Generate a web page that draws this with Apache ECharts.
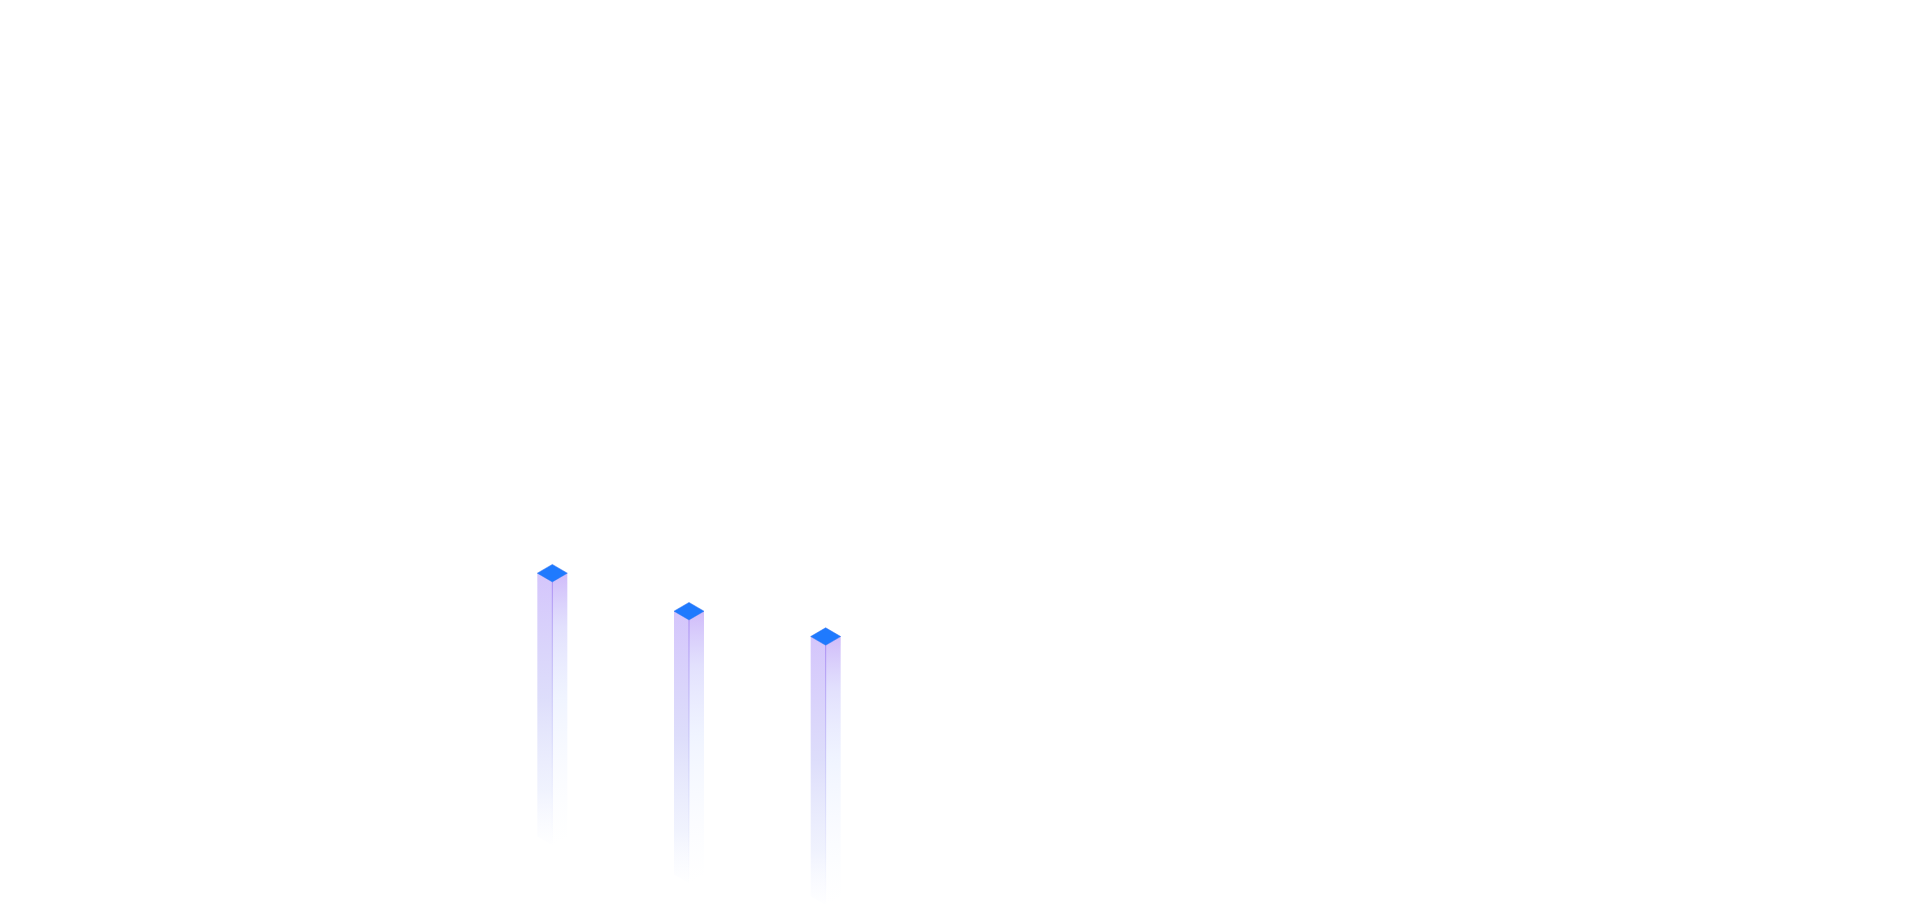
<!DOCTYPE html>
<html>
<head>
<meta charset="utf-8">
<style>
  html, body { margin: 0; padding: 0; background: #ffffff; }
  #chart { width: 1920px; height: 905px; }
</style>
<script src="https://cdn.jsdelivr.net/npm/echarts@6/dist/echarts.min.js"></script>
</head>
<body>
<div id="chart"></div>
<script>
// ---- data ----
const categories = ['A', 'B', 'C'];
const topValues = [357, 315, 287];   // value at the front corner of each cube top
const baseValues = [66, 24, 0];      // value where each column fades out

const chart = echarts.init(document.getElementById('chart'));

const HALF_W = 15;   // half width of a column (px)
const RISE = 8.75;   // isometric rise of the top face (px)

const leftFill = new echarts.graphic.LinearGradient(0, 0, 0, 1, [
  { offset: 0, color: 'rgba(170,140,248,0.5)' },
  { offset: 0.46, color: 'rgba(175,175,245,0.42)' },
  { offset: 0.8, color: 'rgba(195,205,250,0.25)' },
  { offset: 1, color: 'rgba(215,225,255,0.02)' }
]);
const rightFill = new echarts.graphic.LinearGradient(0, 0, 0, 1, [
  { offset: 0, color: 'rgba(165,125,245,0.52)' },
  { offset: 0.2, color: 'rgba(180,175,250,0.38)' },
  { offset: 0.46, color: 'rgba(200,215,255,0.27)' },
  { offset: 0.8, color: 'rgba(220,230,255,0.1)' },
  { offset: 1, color: 'rgba(230,240,255,0)' }
]);
const edgeStroke = new echarts.graphic.LinearGradient(0, 0, 0, 1, [
  { offset: 0, color: 'rgba(150,115,240,0.7)' },
  { offset: 0.6, color: 'rgba(170,170,245,0.35)' },
  { offset: 1, color: 'rgba(200,210,250,0)' }
]);

function renderItem(params, api) {
  const x = api.value(0);
  const top = api.coord([x, api.value(1)]);
  const base = api.coord([x, api.value(2)]);
  return {
    type: 'group',
    children: [
      {
        type: 'polygon',
        shape: { points: [
          [top[0], top[1]], [top[0] - HALF_W, top[1] - RISE],
          [base[0] - HALF_W, base[1] - RISE], [base[0], base[1]]
        ] },
        style: { fill: leftFill }
      },
      {
        type: 'polygon',
        shape: { points: [
          [top[0], top[1]], [top[0] + HALF_W, top[1] - RISE],
          [base[0] + HALF_W, base[1] - RISE], [base[0], base[1]]
        ] },
        style: { fill: rightFill }
      },
      {
        type: 'line',
        shape: { x1: top[0], y1: top[1], x2: base[0], y2: base[1] },
        style: { stroke: edgeStroke, lineWidth: 1 }
      },
      {
        type: 'polygon',
        shape: { points: [
          [top[0], top[1]], [top[0] + HALF_W, top[1] - RISE],
          [top[0], top[1] - 2 * RISE], [top[0] - HALF_W, top[1] - RISE]
        ] },
        style: { fill: '#1f7afe', stroke: '#2a6ff0', lineWidth: 0.5 }
      }
    ]
  };
}

chart.setOption({
  backgroundColor: '#ffffff',
  animation: false,
  grid: { left: 484, width: 410, top: 0, bottom: 0 },
  xAxis: {
    type: 'category',
    data: categories,
    show: false
  },
  yAxis: {
    type: 'value',
    min: 0,
    max: 1000,
    show: false,
    splitLine: { show: false }
  },
  series: [{
    type: 'custom',
    renderItem: renderItem,
    data: categories.map((c, i) => [i, topValues[i], baseValues[i]])
  }]
});
</script>
</body>
</html>
